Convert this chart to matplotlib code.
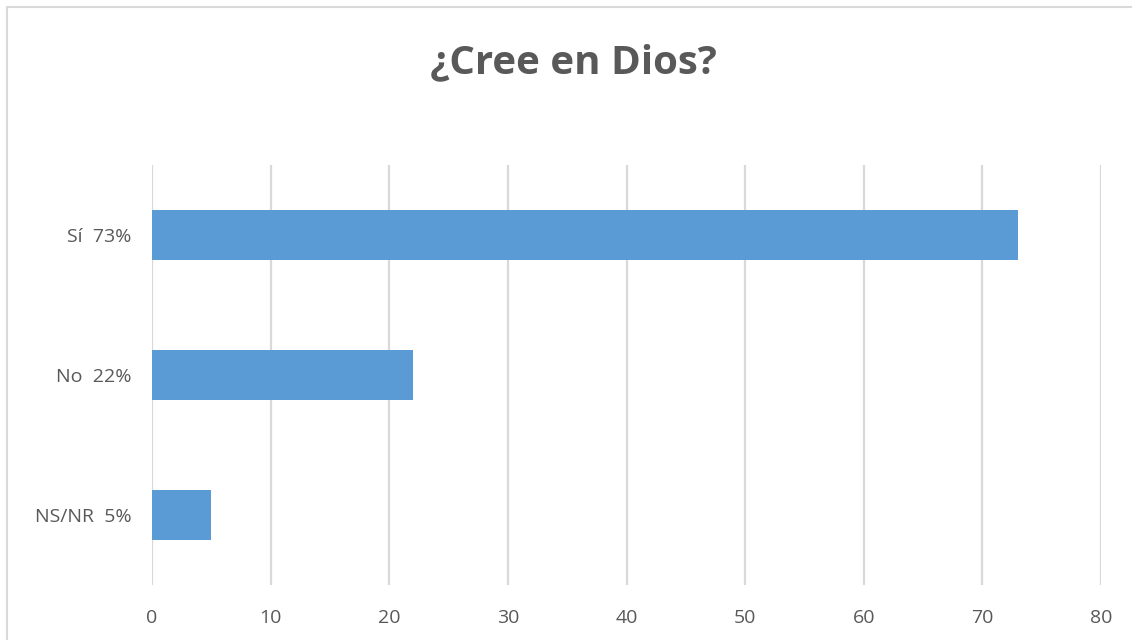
import matplotlib
matplotlib.use("Agg")
import matplotlib.pyplot as plt
from matplotlib.patches import Rectangle

categories = ["Sí  73%", "No  22%", "NS/NR  5%"]
values = [73, 22, 5]
xticks = [0, 10, 20, 30, 40, 50, 60, 70, 80]

plt.rcParams['font.family'] = ['Open Sans', 'DejaVu Sans']

W, H = 1132, 640
fig = plt.figure(figsize=(W / 100, H / 100), dpi=100)
ax = fig.add_axes([152 / W, 1 - 585 / H, (1101 - 152) / W, (585 - 165) / H])

ypos = list(range(len(categories)))
ax.barh(ypos, values, height=0.357, color="#5B9BD5", zorder=3)
ax.set_ylim(len(categories) - 0.5, -0.5)
ax.set_xlim(0, 80)
ax.set_xticks(xticks)
ax.set_xticklabels([str(t) for t in xticks])
ax.set_yticks(ypos)
ax.set_yticklabels(categories)
ax.tick_params(axis="both", length=0, labelsize=14, colors="#595959")
ax.tick_params(axis="x", pad=17)
ax.tick_params(axis="y", pad=15)
ax.grid(axis="x", color="#D9D9D9", linewidth=1.6, zorder=0)
for s in ax.spines.values():
    s.set_visible(False)

fig.text(573 / W, 1 - 63 / H, "¿Cree en Dios?", ha="center", va="center",
         fontsize=29, fontweight="bold", color="#595959")

fig.patches.append(Rectangle((7 / W, -0.05), 1.1, 1 - 7 / H + 0.05,
                             transform=fig.transFigure, fill=False,
                             edgecolor="#D9D9D9", linewidth=1.5))

fig.savefig("out.png", dpi=100)
